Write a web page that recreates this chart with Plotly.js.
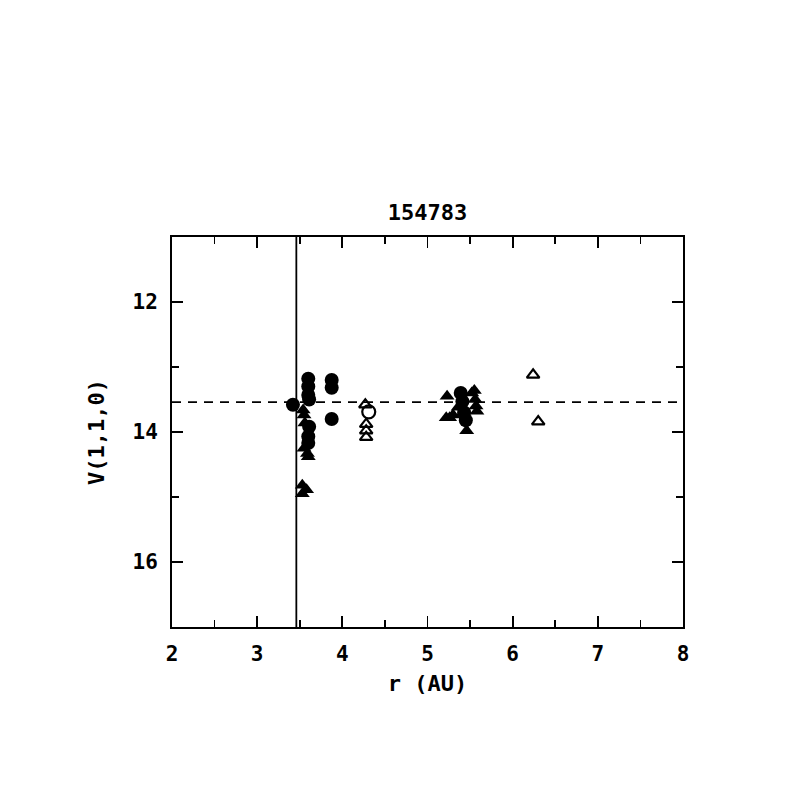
<!DOCTYPE html>
<html>
<head>
<meta charset="utf-8">
<script src="https://cdn.plot.ly/plotly-3.0.1.min.js"></script>
<style>html,body{margin:0;padding:0;background:#fff;}#plot{width:797px;height:797px;}</style>
</head>
<body>
<div id="plot"></div>
<script>
// Data
const filledCircleR = [3.42, 3.60, 3.60, 3.60, 3.61, 3.61, 3.60, 3.60, 3.875, 3.875, 3.875, 5.39, 5.41, 5.43, 5.45];
const filledCircleV = [13.58, 13.18, 13.30, 13.43, 13.50, 13.92, 14.07, 14.17, 13.20, 13.32, 13.80, 13.40, 13.53, 13.70, 13.82];

const filledTriR = [3.54, 3.55, 3.56, 3.55, 3.59, 3.60, 3.53, 3.58, 3.53,
                    5.23, 5.22, 5.26, 5.30, 5.36, 5.42, 5.52, 5.55, 5.56, 5.57, 5.58, 5.46];
const filledTriV = [13.66, 13.74, 13.86, 14.25, 14.33, 14.38, 14.82, 14.89, 14.95,
                    13.45, 13.78, 13.78, 13.74, 13.62, 13.70, 13.40, 13.36, 13.50, 13.60, 13.68, 13.98];

const openTriR = [4.27, 4.28, 4.28, 4.28, 6.24, 6.30];
const openTriV = [13.58, 13.88, 13.98, 14.08, 13.12, 13.84];

const openCircleR = [4.31];
const openCircleV = [13.69];

const perihelionR = 3.46;   // vertical reference line
const meanV = 13.54;        // dashed horizontal reference line
const xRange = [2, 8];
const yRange = [17, 11];
const xTicks = [2, 3, 4, 5, 6, 7, 8];
const yTicks = [12, 14, 16];
const titleText = '<b>154783</b>';
const xLabel = '<b>r (AU)</b>';
const yLabel = '<b>V(1,1,0)</b>';

const FONT = 'DejaVu Sans Mono, Liberation Mono, monospace';

const traces = [
  {x: [perihelionR, perihelionR], y: [yRange[1], yRange[0]], mode: 'lines',
   line: {color: '#000', width: 1.8}, hoverinfo: 'skip'},
  {x: xRange, y: [meanV, meanV], mode: 'lines',
   line: {color: '#000', width: 1.8, dash: '9px,7px'}, hoverinfo: 'skip'},
  {x: filledTriR, y: filledTriV, mode: 'markers',
   marker: {symbol: 'triangle-up', size: 13, color: '#000', line: {width: 0}}},
  {x: filledCircleR, y: filledCircleV, mode: 'markers',
   marker: {symbol: 'circle', size: 14, color: '#000', line: {width: 0}}},
  {x: openTriR, y: openTriV, mode: 'markers',
   marker: {symbol: 'triangle-up-open', size: 11, color: '#000', line: {width: 2.2, color: '#000'}}},
  {x: openCircleR, y: openCircleV, mode: 'markers',
   marker: {symbol: 'circle-open', size: 13, color: '#000', line: {width: 2.2, color: '#000'}}}
];

const tickFmt = v => '<b>' + v + '</b>';

const layout = {
  width: 797, height: 797,
  margin: {l: 172, r: 114, t: 237, b: 170},
  paper_bgcolor: '#fff', plot_bgcolor: '#fff',
  showlegend: false,
  font: {family: FONT, color: '#000', size: 19},
  title: {text: titleText, font: {family: FONT, size: 22, color: '#000'},
          x: 0.5365, xanchor: 'center', y: 1 - 212/797, yanchor: 'middle'},
  xaxis: {
    range: xRange, tickvals: xTicks, ticktext: xTicks.map(tickFmt),
    ticks: 'inside', ticklen: 11, tickwidth: 1.8, tickcolor: '#000',
    minor: {dtick: 0.5, ticks: 'inside', ticklen: 7, tickwidth: 1.8, tickcolor: '#000', showgrid: false},
    showline: true, linewidth: 2, linecolor: '#000', mirror: 'allticks',
    showgrid: false, zeroline: false,
    tickfont: {family: FONT, size: 21, color: '#000'},
    ticklabelstandoff: 7,
    title: {text: xLabel, font: {family: FONT, size: 22, color: '#000'}, standoff: 10}
  },
  yaxis: {
    range: yRange, tickvals: yTicks, ticktext: yTicks.map(tickFmt),
    ticks: 'inside', ticklen: 11, tickwidth: 1.8, tickcolor: '#000',
    minor: {dtick: 1, ticks: 'inside', ticklen: 7, tickwidth: 1.8, tickcolor: '#000', showgrid: false},
    showline: true, linewidth: 2, linecolor: '#000', mirror: 'allticks',
    showgrid: false, zeroline: false,
    tickfont: {family: FONT, size: 21, color: '#000'},
    ticklabelstandoff: 8,
    title: {text: yLabel, font: {family: FONT, size: 22, color: '#000'}, standoff: 22}
  }
};

Plotly.newPlot('plot', traces, layout, {staticPlot: true, displayModeBar: false});
</script>
</body>
</html>
